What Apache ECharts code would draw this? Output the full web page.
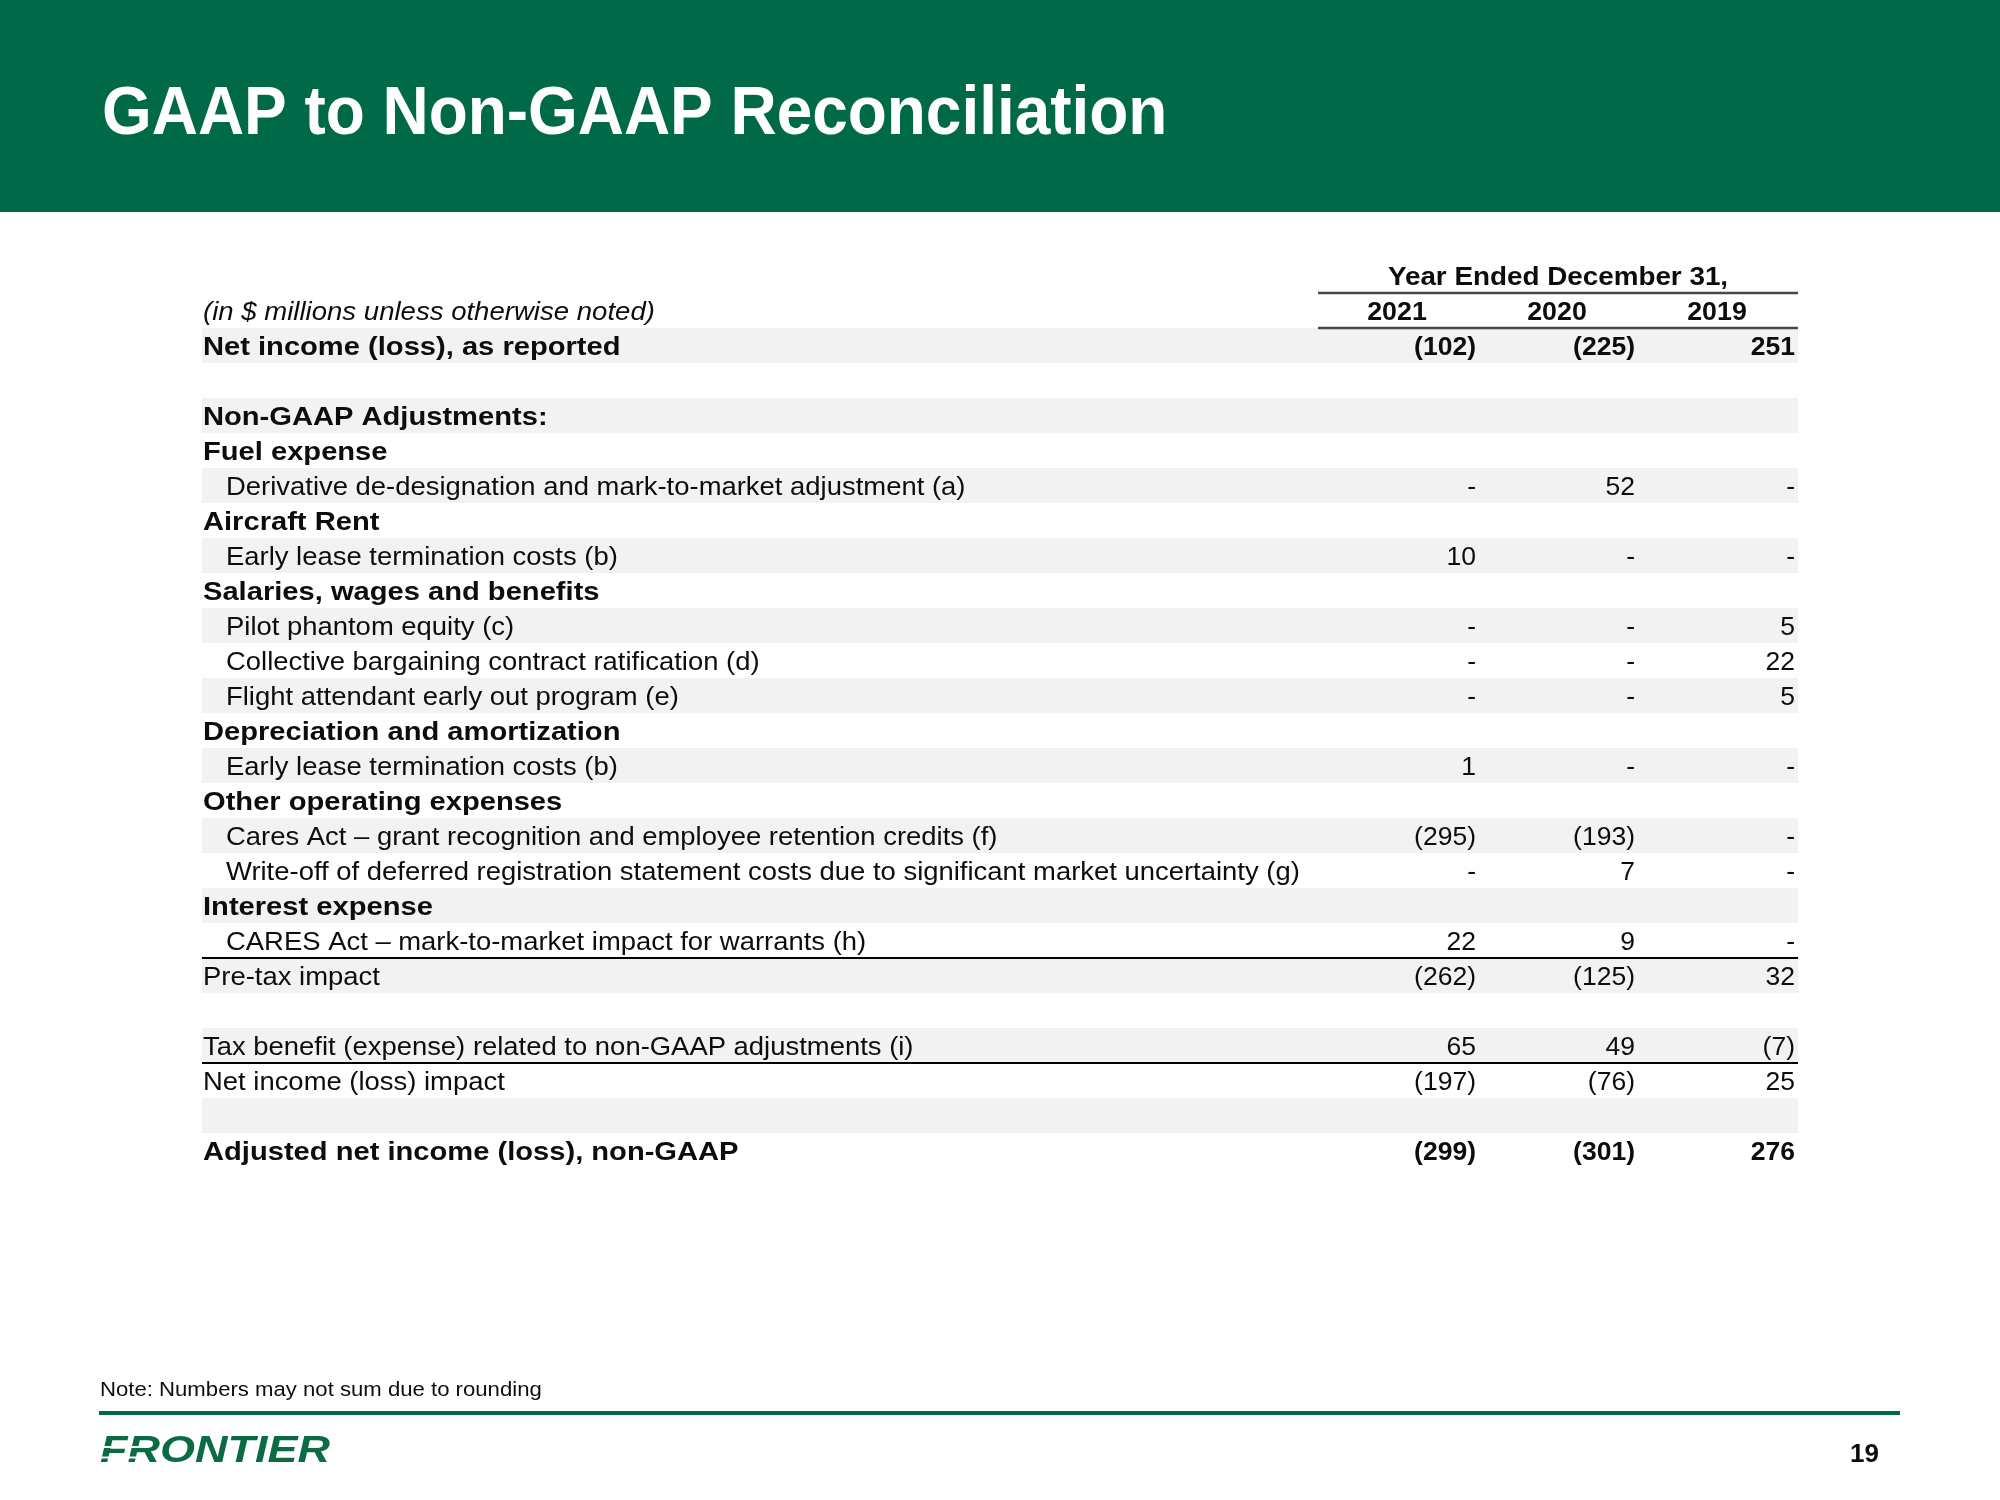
<!DOCTYPE html>
<html><head><meta charset="utf-8">
<script src="https://cdn.jsdelivr.net/npm/echarts@6/dist/echarts.min.js"></script>
<style>html,body{margin:0;padding:0;background:#fff}#c{width:2000px;height:1500px}</style>
</head><body><div id="c"></div>
<script>
// ---------------- data ----------------
const titleText = 'GAAP to Non-GAAP Reconciliation';
const periodHeader = 'Year Ended December 31,';
const unitsNote = '(in $ millions unless otherwise noted)';
const years = ['2021', '2020', '2019'];
const rowLabels = [
  'Net income (loss), as reported', '', 'Non-GAAP Adjustments:', 'Fuel expense',
  'Derivative de-designation and mark-to-market adjustment (a)', 'Aircraft Rent',
  'Early lease termination costs (b)', 'Salaries, wages and benefits',
  'Pilot phantom equity (c)', 'Collective bargaining contract ratification (d)',
  'Flight attendant early out program (e)', 'Depreciation and amortization',
  'Early lease termination costs (b)', 'Other operating expenses',
  'Cares Act \u2013 grant recognition and employee retention credits (f)',
  'Write-off of deferred registration statement costs due to significant market uncertainty (g)',
  'Interest expense', 'CARES Act \u2013 mark-to-market impact for warrants (h)',
  'Pre-tax impact', '', 'Tax benefit (expense) related to non-GAAP adjustments (i)',
  'Net income (loss) impact', '', 'Adjusted net income (loss), non-GAAP'
];
const rowTypes = ['total','blank','section','section','item','section','item','section',
  'item','item','item','section','item','section','item','item','section','item',
  'subtotal','blank','subtotal','subtotal','blank','total'];
const values2021 = [-102,null,null,null,0,null,10,null,0,0,0,null,1,null,-295,0,null,22,-262,null,65,-197,null,-299];
const values2020 = [-225,null,null,null,52,null,0,null,0,0,0,null,0,null,-193,7,null,9,-125,null,49,-76,null,-301];
const values2019 = [251,null,null,null,0,null,0,null,5,22,5,null,0,null,0,0,null,0,32,null,-7,25,null,276];
const noteText = 'Note: Numbers may not sum due to rounding';
const pageNumber = '19';
const logoText = 'FRONTIER';

// ---------------- layout / style ----------------
const FONT = "'Liberation Sans', Arial, Helvetica, sans-serif";
const GREEN = '#006948';
const TEXT = '#0d0d0d';
const GRID_L = 202, GRID_W = 1596, ROW_H = 35, HDR_ROWS = 2;
const GRID_TOP = 258;
const TEXT_DY = 2.5;
const totalRows = HDR_ROWS + rowLabels.length;
const colRight = [1274, 1433, 1593];
const yearCenter = [1195, 1355, 1515];
const periodCenter = 1356;
const hdrLineX0 = 1116;
const rulesAbove = [18, 21];
const allValues = [values2021, values2020, values2019];

function fmt(v) {
  if (v === null) return '';
  if (v === 0) return '-';
  return v < 0 ? '(' + (-v) + ')' : String(v);
}

const chart = echarts.init(document.getElementById('c'), null, {renderer: 'canvas'});

function textEl(x, y, text, o) {
  return {
    type: 'text', x: x, y: y + TEXT_DY, scaleX: o.scaleX || 1,
    style: {
      text: text, fill: o.fill || TEXT, fontFamily: FONT, fontSize: o.size || 26,
      fontWeight: o.weight || 'normal', fontStyle: o.style || 'normal',
      align: o.align || 'left', verticalAlign: 'middle'
    }
  };
}

const series = [];
// row shading
series.push({
  type: 'custom', name: 'shade', silent: true, z: 1,
  data: rowLabels.map((l, i) => [0, i + HDR_ROWS]).filter((d, i) => i % 2 === 0),
  encode: {x: 0, y: 1},
  renderItem: function (params, api) {
    const a = api.coord([0, api.value(1)]);
    const b = api.coord([GRID_W, api.value(1)]);
    const s = api.size([0, 1]);
    return {type: 'rect', shape: {x: a[0], y: a[1] - s[1] / 2, width: b[0] - a[0], height: s[1]},
      style: {fill: '#F2F2F2'}};
  }
});
// rules
series.push({
  type: 'custom', name: 'rules', silent: true, z: 3,
  data: [[hdrLineX0, 1, 0], [hdrLineX0, 2, 0]].concat(rulesAbove.map(r => [0, r + HDR_ROWS, 1])),
  encode: {x: 0, y: 1},
  renderItem: function (params, api) {
    const a = api.coord([api.value(0), api.value(1)]);
    const b = api.coord([GRID_W, api.value(1)]);
    const s = api.size([0, 1]);
    const y = a[1] - s[1] / 2;
    const hdr = api.value(2) === 0;
    return {type: 'line', shape: {x1: a[0], y1: y, x2: b[0], y2: y},
      style: {stroke: hdr ? '#414B4B' : '#000', lineWidth: hdr ? 2.5 : 2}};
  }
});
// header texts
series.push({
  type: 'custom', name: 'header', silent: true, z: 4,
  data: [[periodCenter, 0, -1], [1, 1, -2]].concat(years.map((y, k) => [yearCenter[k], 1, k])),
  encode: {x: 0, y: 1},
  renderItem: function (params, api) {
    const p = api.coord([api.value(0), api.value(1)]);
    const k = api.value(2);
    if (k === -1) return textEl(p[0], p[1], periodHeader, {weight: 'bold', align: 'center', scaleX: 1.07});
    if (k === -2) return textEl(p[0], p[1], unitsNote, {style: 'italic', scaleX: 1.06});
    return textEl(p[0], p[1], years[k], {weight: 'bold', align: 'center', scaleX: 1.03});
  }
});
// row labels
series.push({
  type: 'custom', name: 'labels', silent: true, z: 4,
  data: rowLabels.map((l, i) => [rowTypes[i] === 'item' ? 24 : 1, i + HDR_ROWS, i]),
  encode: {x: 0, y: 1},
  renderItem: function (params, api) {
    const i = api.value(2);
    const t = rowTypes[i];
    if (t === 'blank') return null;
    const p = api.coord([api.value(0), api.value(1)]);
    const bold = (t === 'total' || t === 'section');
    return textEl(p[0], p[1], rowLabels[i], {weight: bold ? 'bold' : 'normal', scaleX: bold ? 1.12 : 1.055});
  }
});
// values per year
allValues.forEach(function (vals, k) {
  series.push({
    type: 'custom', name: years[k], silent: true, z: 4,
    data: vals.map((v, i) => [colRight[k], i + HDR_ROWS, v === null ? NaN : v, i]),
    encode: {x: 0, y: 1},
    renderItem: function (params, api) {
      const i = api.value(3);
      const v = vals[i];
      if (v === null) return null;
      const p = api.coord([api.value(0), api.value(1)]);
      return textEl(p[0], p[1], fmt(v), {weight: rowTypes[i] === 'total' ? 'bold' : 'normal', align: 'right', scaleX: 1.02});
    }
  });
});

const option = {
  animation: false,
  backgroundColor: '#ffffff',
  grid: {left: GRID_L, top: GRID_TOP, width: GRID_W, height: ROW_H * totalRows, containLabel: false},
  xAxis: {type: 'value', min: 0, max: GRID_W, show: false},
  yAxis: {type: 'category', inverse: true, show: false,
    data: Array.from({length: totalRows}, (_, i) => 'r' + i)},
  series: series,
  graphic: [
    {type: 'rect', x: 0, y: 0, shape: {width: 2000, height: 212}, style: {fill: GREEN}, silent: true},
    {type: 'text', x: 102, y: 115, scaleX: 0.94,
      style: {text: titleText, fill: '#fff', fontFamily: FONT, fontSize: 68, fontWeight: 'bold', align: 'left', verticalAlign: 'middle'}},
    {type: 'text', x: 100, y: 1390, scaleX: 1.08,
      style: {text: noteText, fill: TEXT, fontFamily: FONT, fontSize: 20.5, align: 'left', verticalAlign: 'middle'}},
    {type: 'rect', x: 99, y: 1411, shape: {width: 1801, height: 4}, style: {fill: GREEN}, silent: true},
    {type: 'text', x: 100, y: 1452, scaleX: 1.25,
      style: {text: logoText, fill: '#0B6B43', fontFamily: FONT, fontSize: 36, fontWeight: 900, fontStyle: 'italic', align: 'left', verticalAlign: 'middle'}},
    {type: 'rect', x: 98, y: 1446, shape: {width: 44, height: 2}, style: {fill: '#fff'}, silent: true},
    {type: 'rect', x: 98, y: 1456.5, shape: {width: 40, height: 2}, style: {fill: '#fff'}, silent: true},
    {type: 'text', x: 1879, y: 1455,
      style: {text: pageNumber, fill: TEXT, fontFamily: FONT, fontSize: 26, fontWeight: 'bold', align: 'right', verticalAlign: 'middle'}}
  ]
};
chart.setOption(option);
</script>
</body></html>
